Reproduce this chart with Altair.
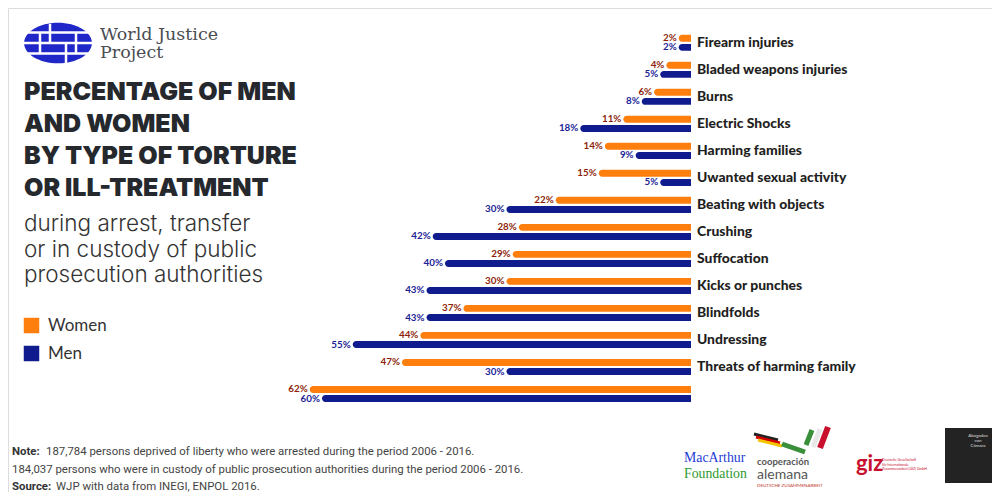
import altair as alt
import pandas as pd

# ---------------- data ----------------
categories = [
    "Firearm injuries", "Bladed weapons injuries", "Burns", "Electric Shocks",
    "Harming families", "Uwanted sexual activity", "Beating with objects",
    "Crushing", "Suffocation", "Kicks or punches", "Blindfolds", "Undressing",
    "Threats of harming family", "",
]
women = [2, 4, 6, 11, 14, 15, 22, 28, 29, 30, 37, 44, 47, 62]
men = [2, 5, 8, 18, 9, 5, 30, 42, 40, 43, 43, 55, 30, 60]
series = ["Women", "Men"]

title_lines = "PERCENTAGE OF MEN\nAND WOMEN\nBY TYPE OF TORTURE\nOR ILL-TREATMENT"
subtitle_lines = "during arrest, transfer\nor in custody of public\nprosecution authorities"
note_1 = "187,784 persons deprived of liberty who were arrested during the period 2006 - 2016."
note_2 = "184,037 persons who were in custody of public prosecution authorities during the period 2006 - 2016."
source = "WJP with data from INEGI, ENPOL 2016."

ORANGE = "#FF7F0E"
NAVY = "#101C8E"
ORANGE_TXT = "#8E1F0B"
NAVY_TXT = "#1B2396"
DARK = "#25282D"

rows = []
for c, w, m in zip(categories, women, men):
    rows.append({"category": c, "sex": "Women", "value": w, "label": f"{w}%"})
    rows.append({"category": c, "sex": "Men", "value": m, "label": f"{m}%"})
df = pd.DataFrame(rows)
cat_df = pd.DataFrame({"category": categories})

# ---------------- scales ----------------
xscale = alt.Scale(domain=[0, 100], range=[683, 68])
yscale = alt.Scale(domain=categories, range=[21.3, 399.5], paddingInner=0, paddingOuter=0)
yoff = alt.YOffset("sex:N", sort=series,
                   scale=alt.Scale(domain=series, paddingInner=0.24, paddingOuter=0.6))

bars = alt.Chart(df).mark_bar(
    cornerRadiusTopLeft=3.5, cornerRadiusBottomLeft=3.5
).encode(
    x=alt.X("value:Q", scale=xscale, axis=None),
    x2=alt.X2Datum(0),
    y=alt.Y("category:N", sort=categories, scale=yscale, axis=None),
    yOffset=yoff,
    color=alt.Color(
        "sex:N",
        scale=alt.Scale(domain=series, range=[ORANGE, NAVY]),
        legend=alt.Legend(
            orient="none", legendX=15, legendY=309, title=None,
            symbolType="square", symbolSize=240, symbolStrokeWidth=0,
            symbolOpacity=1, labelFontSize=17, labelFont="Lato",
            labelColor="#333333", rowPadding=10, labelOffset=8, padding=0,
        ),
    ),
)

values = alt.Chart(df).mark_text(
    align="right", baseline="middle", dx=-2, font="Lato", fontWeight="bold", fontSize=9.8
).encode(
    x=alt.X("value:Q", scale=xscale, axis=None),
    y=alt.Y("category:N", sort=categories, scale=yscale, axis=None),
    yOffset=yoff,
    text="label:N",
    color=alt.condition(alt.datum.sex == "Women", alt.value(ORANGE_TXT), alt.value(NAVY_TXT)),
)

cat_labels = alt.Chart(cat_df).mark_text(
    align="left", baseline="middle", dx=6, font="Lato", fontWeight=900,
    fontSize=13.9, color="#1F1F22"
).encode(
    x=alt.datum(0, scale=xscale),
    y=alt.Y("category:N", sort=categories, scale=yscale, axis=None),
    text="category:N",
)


def txt(s, x, y, size, color, weight="normal", font="Lato", align="left",
        baseline="alphabetic", lh=None):
    kw = dict(align=align, baseline=baseline, font=font, fontSize=size,
              fontWeight=weight, color=color)
    if lh is not None:
        kw["lineBreak"] = "\n"
        kw["lineHeight"] = lh
    return alt.Chart(pd.DataFrame({"t": [s]})).mark_text(**kw).encode(
        x=alt.value(x - 8), y=alt.value(y - 8), text="t:N"
    )


def rule(x1, x2, y1, y2, color, w, cap="butt"):
    return alt.Chart(pd.DataFrame({"a": [0]})).mark_rule(
        color=color, strokeWidth=w, strokeCap=cap
    ).encode(x=alt.value(x1 - 8), x2=alt.value(x2 - 8),
             y=alt.value(y1 - 8), y2=alt.value(y2 - 8))


# globe logo (approximation)
globe = alt.Chart(pd.DataFrame({"a": [0]})).mark_point(
    shape="M -1 0 A 1 0.6 0 1 0 1 0 A 1 0.6 0 1 0 -1 0 Z",
    filled=True, opacity=1, size=4600, color="#2027C9", strokeWidth=0,
).encode(x=alt.value(58 - 8), y=alt.value(43 - 8))

globe_lines = [
    rule(18, 98, 32.5, 32.5, "white", 2.5),
    rule(18, 98, 43, 43, "white", 2.5),
    rule(18, 98, 53.5, 53.5, "white", 2.5),
    rule(50, 50, 24, 43, "white", 2.5),
    rule(66, 66, 43, 63, "white", 2.5),
    rule(40, 40, 33, 53, "white", 2.5),
    rule(76, 76, 33, 53, "white", 2.5),
]

NOTE_FONT = "Roboto"
NS = 11.4
texts = [
    txt("World Justice", 100, 40, 17.5, "#4A4D52", font="DejaVu Serif"),
    txt("Project", 100, 58, 17.5, "#4A4D52", font="DejaVu Serif"),
    txt(title_lines, 24, 100, 25, DARK, weight=900, font="Inter", lh=32),
    txt(subtitle_lines, 24, 231, 22.5, "#333333", weight=300, font="Inter", lh=25.5),
    txt("Note:", 12, 455, NS, "#333333", weight="bold", font=NOTE_FONT),
    txt(note_1, 46, 455, NS, "#444444", font=NOTE_FONT),
    txt(note_2, 12, 472.5, NS, "#444444", font=NOTE_FONT),
    txt("Source:", 12, 490, NS, "#333333", weight="bold", font=NOTE_FONT),
    txt(source, 56, 490, NS, "#444444", font=NOTE_FONT),
    # partner logos (text approximations)
    txt("MacArthur", 684, 462, 13.8, "#1F3BD6", font="Liberation Serif"),
    txt("Foundation", 684, 478, 13.8, "#2E9A2E", font="Liberation Serif"),
    txt("cooperación", 757, 465, 9.5, "#555555", weight="bold"),
    txt("alemana", 757, 479, 14, "#555555"),
    txt("DEUTSCHE ZUSAMMENARBEIT", 757, 487, 4.5, "#C0392B"),
    txt("giz", 856, 471, 22, "#C8102E", weight="bold"),
    txt("Deutsche Gesellschaft\nfür Internationale\nZusammenarbeit (GIZ) GmbH", 882, 461, 3.5,
        "#C8102E", lh=4.5),
]

flag = [
    rule(754, 778, 434, 440, "#222222", 3),
    rule(756, 780, 437, 443, "#D40000", 3),
    rule(758, 782, 440, 446, "#F5C400", 3),
    rule(782, 805, 444, 452, "#3A8F3A", 5),
    rule(806, 812, 445, 430, "#3A8F3A", 5),
    rule(813, 820, 447, 429, "#E8E8E8", 5),
    rule(820, 828, 448, 427, "#C8102E", 6),
]

box = alt.Chart(pd.DataFrame({"a": [0]})).mark_rect(color="#232323").encode(
    x=alt.value(945 - 8), x2=alt.value(993 - 8), y=alt.value(428 - 8), y2=alt.value(483 - 8)
)
box_txt = txt("Abogados\ncon\nCámara", 978, 437, 4.5, "#DDDDDD", align="center", lh=5)

chart = alt.layer(
    bars, values, cat_labels, globe, *globe_lines, *texts, *flag, box, box_txt
).properties(
    width=984, height=484,
    autosize=alt.AutoSizeParams(type="none"),
    padding=0,
).configure_view(stroke=None).configure(background="white")

chart.save("out.html", embed_options={"renderer": "svg", "actions": False})
